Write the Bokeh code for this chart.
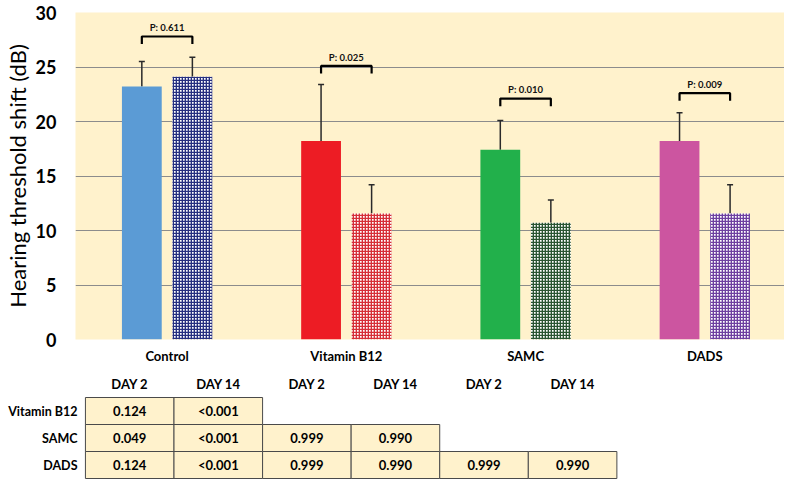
from bokeh.plotting import figure
from bokeh.models import ColumnDataSource, Range1d, FixedTicker, Whisker, TeeHead
from bokeh.layouts import column
from bokeh.core.properties import value
from bokeh.embed import file_html
from bokeh.resources import INLINE

# ---------------- data ----------------
categories = ["Control", "Vitamin B12", "SAMC", "DADS"]
day2_mean = [23.2, 18.2, 17.4, 18.2]
day2_upper = [25.5, 23.4, 20.1, 20.8]
day14_mean = [24.1, 11.55, 10.7, 11.55]
day14_upper = [25.9, 14.2, 12.8, 14.2]
p_labels = ["P: 0.611", "P: 0.025", "P: 0.010", "P: 0.009"]
p_bracket_y = [27.8, 25.1, 22.1, 22.6]
y_ticks = [0, 5, 10, 15, 20, 25, 30]

table_cols = ["DAY 2", "DAY 14", "DAY 2", "DAY 14", "DAY 2", "DAY 14"]
table_rows = ["Vitamin B12", "SAMC", "DADS"]
table_values = [
    ["0.124", "<0.001"],
    ["0.049", "<0.001", "0.999", "0.990"],
    ["0.124", "<0.001", "0.999", "0.990", "0.999", "0.990"],
]

# ---------------- styles ----------------
day2_colors = ["#5B9BD5", "#ED1C24", "#22B04B", "#CC55A0"]
day14_colors = ["#262F80", "#D62F38", "#2A5532", "#6E40A0"]
FONT = "Lato"
BEIGE = "#FFF2CC"
GRID = "#8C8C8C"
bar_w = 0.222
off = 0.141
LEFT = 70

# ---------------- chart ----------------
centers = [i + 0.5 for i in range(len(categories))]
x2 = [c - off for c in centers]
x14 = [c + off for c in centers]

xs0 = -2.0 / 180.5
p = figure(width=784, height=370, x_range=Range1d(xs0, xs0 + 714 / 180.5), y_range=Range1d(0, 30),
           output_backend="svg", toolbar_location=None,
           min_border_left=LEFT, min_border_right=0, min_border_top=12, min_border_bottom=31)
p.background_fill_color = BEIGE
p.border_fill_color = "white"
p.outline_line_color = None

src2 = ColumnDataSource(dict(x=x2, top=day2_mean, upper=day2_upper, color=day2_colors))
src14 = ColumnDataSource(dict(x=x14, top=day14_mean, upper=day14_upper, color=day14_colors))

p.vbar(x="x", top="top", width=bar_w, bottom=0, source=src2, fill_color="color", line_color=None)
p.vbar(x="x", top="top", width=bar_w, bottom=0, source=src14, fill_color="white",
       line_color=None, hatch_pattern="+", hatch_color="color", hatch_scale=3.0, hatch_weight=1.7)

for s in (src2, src14):
    w = Whisker(source=s, base="x", upper="upper", lower="top", dimension="height",
                line_color="#2a2a2a", line_width=1.5,
                upper_head=TeeHead(size=6, line_color="#2a2a2a", line_width=1.5),
                lower_head=None)
    p.add_layout(w)

# brackets
leg = 0.7
bx = []
by = []
for a, b, yb in zip(x2, x14, p_bracket_y):
    bx.append([a, a, b, b])
    by.append([yb - leg, yb, yb, yb - leg])
p.multi_line(xs=bx, ys=by, line_color="black", line_width=2.2)
p.text(x=centers, y=[v + 0.3 for v in p_bracket_y], text=p_labels,
       text_font=value(FONT), text_font_style="bold", text_font_size="9.5px",
       text_align="center", text_baseline="bottom", text_color="#111")

# axes
p.xgrid.grid_line_color = None
p.ygrid.grid_line_color = GRID
p.ygrid.grid_line_width = 1
p.yaxis.ticker = FixedTicker(ticks=y_ticks)
p.ygrid.ticker = FixedTicker(ticks=y_ticks)
p.yaxis.axis_line_color = None
p.yaxis.major_tick_line_color = None
p.yaxis.minor_tick_line_color = None
p.yaxis.major_label_text_font = FONT
p.yaxis.major_label_text_font_style = "bold"
p.yaxis.major_label_text_font_size = "18px"
p.yaxis.major_label_text_color = "black"
p.yaxis.major_label_standoff = 13
p.yaxis.axis_label = "Hearing threshold shift (dB)"
p.yaxis.axis_label_text_font = FONT
p.yaxis.axis_label_text_font_style = "normal"
p.yaxis.axis_label_text_font_size = "22px"
p.yaxis.axis_label_text_color = "black"
p.yaxis.axis_label_standoff = 2

p.xaxis.ticker = FixedTicker(ticks=centers)
p.xaxis.major_label_overrides = {c: name for c, name in zip(centers, categories)}
p.xaxis.axis_line_color = None
p.xaxis.major_tick_line_color = None
p.xaxis.minor_tick_line_color = None
p.xaxis.major_label_text_font = FONT
p.xaxis.major_label_text_font_style = "bold"
p.xaxis.major_label_text_font_size = "13px"
p.xaxis.major_label_text_color = "black"
p.xaxis.major_label_standoff = 2

# ---------------- table ----------------
col_w = 89.2
x0 = -10.0 / col_w
row_idx = [r + 1 for r in range(len(table_rows))]
t = figure(width=784, height=109, x_range=Range1d(x0, x0 + 714 / col_w),
           y_range=Range1d(3.537, -0.5), output_backend="svg", toolbar_location=None,
           x_axis_location=None, y_axis_location="left",
           min_border_left=LEFT, min_border_right=0, min_border_top=0, min_border_bottom=0)
t.outline_line_color = None
t.grid.grid_line_color = None
t.background_fill_color = "white"
t.yaxis.ticker = FixedTicker(ticks=row_idx)
t.yaxis.major_label_overrides = {r: name for r, name in zip(row_idx, table_rows)}
t.yaxis.axis_line_color = None
t.yaxis.major_tick_line_color = None
t.yaxis.minor_tick_line_color = None
t.yaxis.major_tick_out = 0
t.yaxis.major_tick_in = 0
t.yaxis.major_label_standoff = -2
t.yaxis.major_label_text_font = FONT
t.yaxis.major_label_text_font_style = "bold"
t.yaxis.major_label_text_font_size = "12.5px"
t.yaxis.major_label_text_color = "black"

cx, cy, ct = [], [], []
for r, vals in enumerate(table_values):
    for c, v in enumerate(vals):
        cx.append(c + 0.5)
        cy.append(r + 1)
        ct.append(v)
t.rect(x=cx, y=cy, width=1, height=1, fill_color=BEIGE, line_color="#4a4a4a", line_width=1)
t.text(x=cx, y=cy, text=ct, text_font=value(FONT), text_font_style="bold", text_font_size="13px",
       text_align="center", text_baseline="middle", text_color="black")
t.text(x=[c + 0.5 for c in range(len(table_cols))], y=[0] * len(table_cols), text=table_cols,
       text_font=value(FONT), text_font_style="bold", text_font_size="13px",
       text_align="center", text_baseline="middle", text_color="black")

layout = column(p, t, spacing=0)
open("out.html", "w").write(file_html(layout, INLINE))
